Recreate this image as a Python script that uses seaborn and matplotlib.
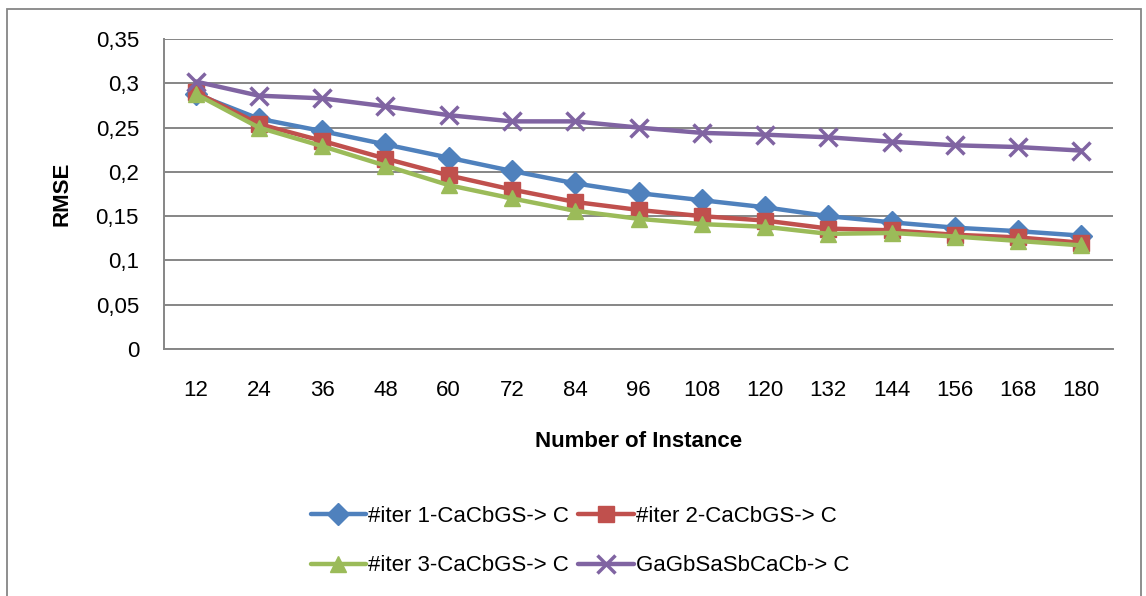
import numpy as np
import pandas as pd
import matplotlib
matplotlib.use("Agg")
import matplotlib.pyplot as plt
import seaborn as sns
from matplotlib.patches import Rectangle
from matplotlib.lines import Line2D

instances = [12, 24, 36, 48, 60, 72, 84, 96, 108, 120, 132, 144, 156, 168, 180]
series_names = ["#iter 1-CaCbGS-> C", "#iter 2-CaCbGS-> C",
                "#iter 3-CaCbGS-> C", "GaGbSaSbCaCb-> C"]
iter1 = [0.288, 0.260, 0.246, 0.231, 0.216, 0.201, 0.187, 0.176, 0.168, 0.160, 0.150, 0.143, 0.137, 0.133, 0.128]
iter2 = [0.290, 0.254, 0.235, 0.215, 0.196, 0.180, 0.166, 0.157, 0.150, 0.145, 0.136, 0.134, 0.129, 0.126, 0.120]
iter3 = [0.288, 0.250, 0.229, 0.207, 0.185, 0.170, 0.156, 0.147, 0.141, 0.138, 0.130, 0.131, 0.127, 0.122, 0.117]
gagb = [0.302, 0.286, 0.283, 0.274, 0.264, 0.257, 0.257, 0.250, 0.244, 0.242, 0.239, 0.234, 0.230, 0.228, 0.224]
y_ticks = [0, 0.05, 0.1, 0.15, 0.2, 0.25, 0.3, 0.35]
y_tick_labels = ["0", "0,05", "0,1", "0,15", "0,2", "0,25", "0,3", "0,35"]

colors = ["#4F81BD", "#C0504D", "#9BBB59", "#8064A2"]
markers = ["D", "s", "^", "x"]

sns.set_theme(style="white")
plt.rcParams['font.family'] = ['Liberation Sans', 'DejaVu Sans']
plt.rcParams['text.color'] = 'black'
plt.rcParams['axes.labelcolor'] = 'black'
plt.rcParams['xtick.labelcolor'] = 'black'
plt.rcParams['ytick.labelcolor'] = 'black'

values = [iter1, iter2, iter3, gagb]
rows = []
for name, vals in zip(series_names, values):
    for i, v in enumerate(vals):
        rows.append({"pos": i, "RMSE": v, "series": name})
df = pd.DataFrame(rows)

fig = plt.figure(figsize=(11.46, 5.96), dpi=100)
fig.patch.set_facecolor("white")
ax = fig.add_axes([164/1146, 1 - 349/596, (1113-164)/1146, (349-39)/596])

for name, c, m in zip(series_names, colors, markers):
    sub = df[df["series"] == name]
    msize = 11 if m != "x" else 13
    sns.lineplot(data=sub, x="pos", y="RMSE", ax=ax, color=c, marker=m,
                 markersize=msize, linewidth=3.2, markeredgecolor=c,
                 markeredgewidth=2.5 if m == "x" else 1, legend=False, zorder=3)

ax.set_xlim(-0.5, len(instances) - 0.5)
ax.set_ylim(0, 0.35)
ax.set_yticks(y_ticks)
ax.set_yticklabels(y_tick_labels, fontsize=16)
ax.set_xticks(range(len(instances)))
ax.set_xticklabels([str(v) for v in instances], fontsize=16)
ax.tick_params(axis="x", length=0, pad=22)
ax.set_xticks(np.arange(-0.5, len(instances), 1), minor=True)
ax.tick_params(axis="x", which="minor", length=6, width=1.3, color="#868686", direction="out")
ax.tick_params(axis="y", length=7, width=1.3, color="#868686", direction="out", pad=11)
ax.yaxis.grid(True, color="#868686", linewidth=1.4)
ax.xaxis.grid(False)
ax.set_axisbelow(True)
for s in ["top", "right"]:
    ax.spines[s].set_visible(False)
for s in ["left", "bottom"]:
    ax.spines[s].set_color("#868686")
    ax.spines[s].set_linewidth(1.4)

ax.set_xlabel("Number of Instance", fontsize=16, fontweight="bold", labelpad=22)
ax.set_ylabel("RMSE", fontsize=16, fontweight="bold", labelpad=17)

handles = [Line2D([0], [0], color=c, marker=m, markersize=11 if m != "x" else 13,
                  linewidth=3.2, markeredgecolor=c, markeredgewidth=2.5 if m == "x" else 1)
           for c, m in zip(colors, markers)]
order = [0, 2, 1, 3]
fig.legend([handles[i] for i in order], [series_names[i] for i in order], ncol=2,
           loc="center", bbox_to_anchor=(580/1146, 1 - 541/596),
           frameon=False, fontsize=16, handlelength=2.5, handletextpad=0.1,
           columnspacing=0.4, labelspacing=1.3)

fig.add_artist(Rectangle((7/1146, -0.05), (1141-7)/1146, 1.05 - 9/596,
                         transform=fig.transFigure, fill=False,
                         edgecolor="#868686", linewidth=1.3))

fig.savefig("out.png", dpi=100)
